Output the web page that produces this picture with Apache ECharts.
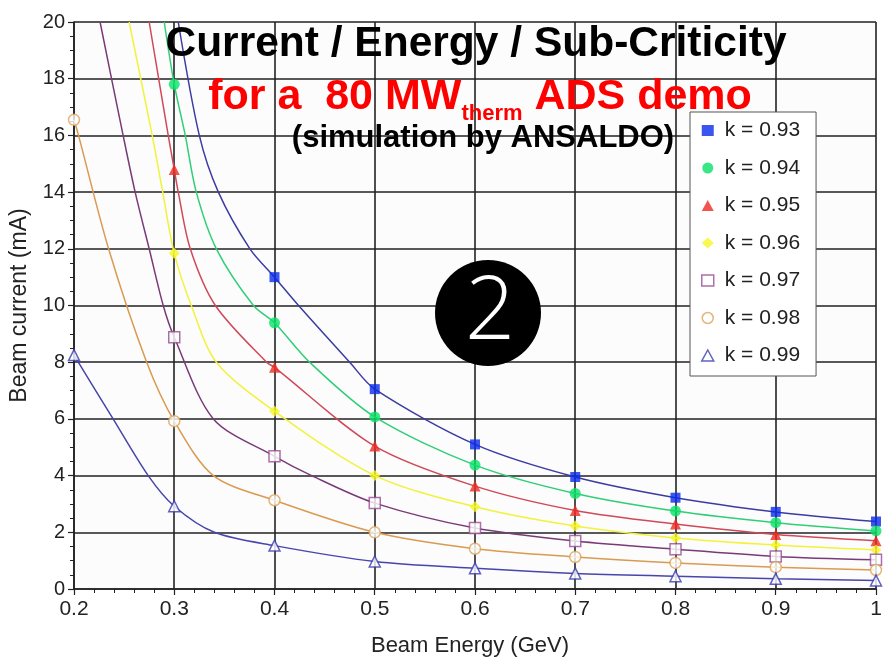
<!DOCTYPE html>
<html>
<head>
<meta charset="utf-8">
<title>Current / Energy / Sub-Criticity</title>
<script src="https://cdn.jsdelivr.net/npm/echarts@6/dist/echarts.min.js"></script>
<style>
  html, body { margin: 0; padding: 0; background: #fff; }
  #main { width: 885px; height: 664px; }
</style>
</head>
<body>
<div id="main"></div>
<script>
// beam energy (GeV) where the markers sit
const energy = [0.2, 0.3, 0.4, 0.5, 0.6, 0.7, 0.8, 0.9, 1.0];
const kLabels = ['k = 0.93', 'k = 0.94', 'k = 0.95', 'k = 0.96', 'k = 0.97', 'k = 0.98', 'k = 0.99'];

// beam current (mA) at each energy, null = off the chart
const k93 = [null, null, 11.0, 7.05, 5.1, 3.95, 3.22, 2.72, 2.38];
const k94 = [null, 17.8, 9.39, 6.07, 4.37, 3.37, 2.75, 2.34, 2.05];
const k95 = [null, 14.8, 7.82, 5.04, 3.63, 2.77, 2.29, 1.92, 1.7];
const k96 = [null, 11.84, 6.27, 4.0, 2.9, 2.22, 1.8, 1.55, 1.38];
const k97 = [null, 8.88, 4.68, 3.03, 2.15, 1.69, 1.4, 1.15, 1.03];
const k98 = [16.55, 5.92, 3.13, 2.0, 1.42, 1.13, 0.92, 0.77, 0.67];
const k99 = [8.25, 2.92, 1.53, 0.97, 0.73, 0.55, 0.45, 0.36, 0.3];

// extra points read along the steep part of each curve [energy, current]
const k93Trace = [[0.304, 20], [0.325, 16], [0.344, 14], [0.3755, 12], [0.424, 10], [0.475, 8]];
const k94Trace = [[0.29, 20], [0.311, 16], [0.322, 14], [0.342, 12], [0.379, 10], [0.435, 8]];
const k95Trace = [[0.275, 20], [0.294, 16], [0.304, 14], [0.316, 12], [0.341, 10], [0.392, 8]];
const k96Trace = [[0.255, 20], [0.278, 16], [0.2885, 14], [0.317, 10], [0.342, 8]];
const k97Trace = [[0.226, 20], [0.249, 16], [0.261, 14], [0.275, 12], [0.289, 10], [0.339, 6], [0.437, 4]];
const k98Trace = [[0.2045, 16], [0.2345, 12], [0.2725, 8], [0.339, 4]];
const k99Trace = [[0.239, 6], [0.274, 4], [0.34, 2]];

const markValues = [k93, k94, k95, k96, k97, k98, k99];
const traces = [k93Trace, k94Trace, k95Trace, k96Trace, k97Trace, k98Trace, k99Trace];

const lineColors = ['#3c3ca2', '#2fcf78', '#cf4a58', '#f2f23c', '#7a3a78', '#d99a52', '#4646ac'];
const markStyles = [
  { symbol: 'rect', size: 10, itemStyle: { color: '#0a2aee' } },
  { symbol: 'circle', size: 11, itemStyle: { color: '#08e266' } },
  { symbol: 'triangle', size: 11, itemStyle: { color: '#ee2a22' } },
  { symbol: 'diamond', size: 11, itemStyle: { color: '#f6f626' } },
  { symbol: 'rect', size: 11, itemStyle: { color: '#fff', borderColor: '#9a4a92', borderWidth: 1.5 } },
  { symbol: 'circle', size: 11, itemStyle: { color: '#fff', borderColor: '#dca458', borderWidth: 1.5 } },
  { symbol: 'triangle', size: 11, itemStyle: { color: '#fff', borderColor: '#3a3ab0', borderWidth: 1.5 } }
];

function markPoints(vals) {
  let pts = [];
  energy.forEach((e, i) => {
    if (vals[i] != null) pts.push([e, vals[i]]);
  });
  return pts;
}

let series = [];
markValues.forEach((vals, i) => {
  let curve = traces[i].concat(markPoints(vals));
  curve.sort((a, b) => a[0] - b[0]);
  series.push({
    name: 'curve' + i,
    type: 'line',
    data: curve,
    smooth: 0.3,
    symbol: 'none',
    lineStyle: { color: lineColors[i], width: 1.5 },
    z: 3,
    silent: true
  });
});
markValues.forEach((vals, i) => {
  series.push({
    name: kLabels[i],
    type: 'scatter',
    data: markPoints(vals),
    symbol: markStyles[i].symbol,
    symbolSize: markStyles[i].size,
    symbolKeepAspect: true,
    itemStyle: markStyles[i].itemStyle,
    z: 5
  });
});

const fontFam = '"Liberation Sans", Arial, sans-serif';

const chart = echarts.init(document.getElementById('main'), null, { renderer: 'canvas' });
chart.setOption({
  animation: false,
  backgroundColor: '#ffffff',
  grid: {
    left: 74, right: 9, top: 22, bottom: 75,
    show: true, backgroundColor: '#fcfcfc', borderWidth: 0
  },
  legend: {
    data: kLabels,
    orient: 'vertical',
    left: 690,
    top: 112,
    padding: [8, 16, 10, 11],
    itemGap: 16.5,
    itemWidth: 12,
    itemHeight: 11,
    symbolKeepAspect: true,
    itemStyle: { borderWidth: 1.5 },
    backgroundColor: '#ffffff',
    borderColor: '#555',
    borderWidth: 1,
    textStyle: { fontFamily: fontFam, fontSize: 21, color: '#222', lineHeight: 21, padding: [0, 0, 0, 6] }
  },
  xAxis: {
    type: 'value',
    min: 0.2,
    max: 1,
    interval: 0.1,
    name: 'Beam Energy (GeV)',
    nameLocation: 'middle',
    nameGap: 46,
    nameTextStyle: { fontFamily: fontFam, fontSize: 22, color: '#222', padding: [0, 10, 0, 0] },
    axisLine: { show: true, lineStyle: { color: '#222', width: 1.6 } },
    axisTick: { show: true, inside: false, length: 6, lineStyle: { color: '#222', width: 1.2 } },
    minorTick: { show: true, splitNumber: 5, length: 4, lineStyle: { color: '#222', width: 1 } },
    axisLabel: {
      margin: 10, fontFamily: fontFam, fontSize: 21, color: '#222',
      formatter: v => (Math.abs(v - 1) < 1e-9 ? '1' : v.toFixed(1))
    },
    splitLine: { show: true, lineStyle: { color: '#222', width: 1.6 } }
  },
  yAxis: {
    type: 'value',
    min: 0,
    max: 20,
    interval: 2,
    name: 'Beam current (mA)',
    nameLocation: 'middle',
    nameGap: 43,
    nameTextStyle: { fontFamily: fontFam, fontSize: 23, color: '#222', padding: [0, 0, 0, 0] },
    axisLine: { show: true, lineStyle: { color: '#222', width: 1.6 } },
    axisTick: { show: true, inside: false, length: 6, lineStyle: { color: '#222', width: 1.2 } },
    minorTick: { show: true, splitNumber: 4, length: 4, lineStyle: { color: '#222', width: 1 } },
    axisLabel: { margin: 9, fontFamily: fontFam, fontSize: 20, color: '#222' },
    splitLine: { show: true, lineStyle: { color: '#222', width: 1.6 } }
  },
  graphic: [
    {
      type: 'text', z: 100, x: 476, y: 44,
      style: {
        text: 'Current / Energy / Sub-Criticity',
        font: 'bold 42.5px ' + fontFam,
        fill: '#000',
        align: 'center',
        verticalAlign: 'middle'
      }
    },
    {
      type: 'text', z: 100, x: 480, y: 76,
      style: {
        text: '{a|for a  80 MW}{s|therm}{a| ADS demo}',
        align: 'center',
        verticalAlign: 'top',
        rich: {
          a: { fontFamily: fontFam, fontWeight: 'bold', fontSize: 43, lineHeight: 43, fill: '#ff0000', verticalAlign: 'top' },
          s: { fontFamily: fontFam, fontWeight: 'bold', fontSize: 22, lineHeight: 22, fill: '#ff0000', padding: [27, 0, 0, 0], verticalAlign: 'top' }
        }
      }
    },
    {
      type: 'text', z: 100, x: 483, y: 138,
      style: {
        text: '(simulation by ANSALDO)',
        font: 'bold 31px ' + fontFam,
        fill: '#000',
        align: 'center',
        verticalAlign: 'middle'
      }
    },
    {
      type: 'circle', z: 100,
      shape: { cx: 488, cy: 313, r: 53 },
      style: { fill: '#000' }
    },
    {
      type: 'text', z: 101, x: 490, y: 314,
      style: {
        text: '2',
        font: '300 88px "Open Sans", "DejaVu Sans", sans-serif',
        fill: '#fff',
        align: 'center',
        verticalAlign: 'middle'
      }
    }
  ],
  series: series
});
</script>
</body>
</html>
